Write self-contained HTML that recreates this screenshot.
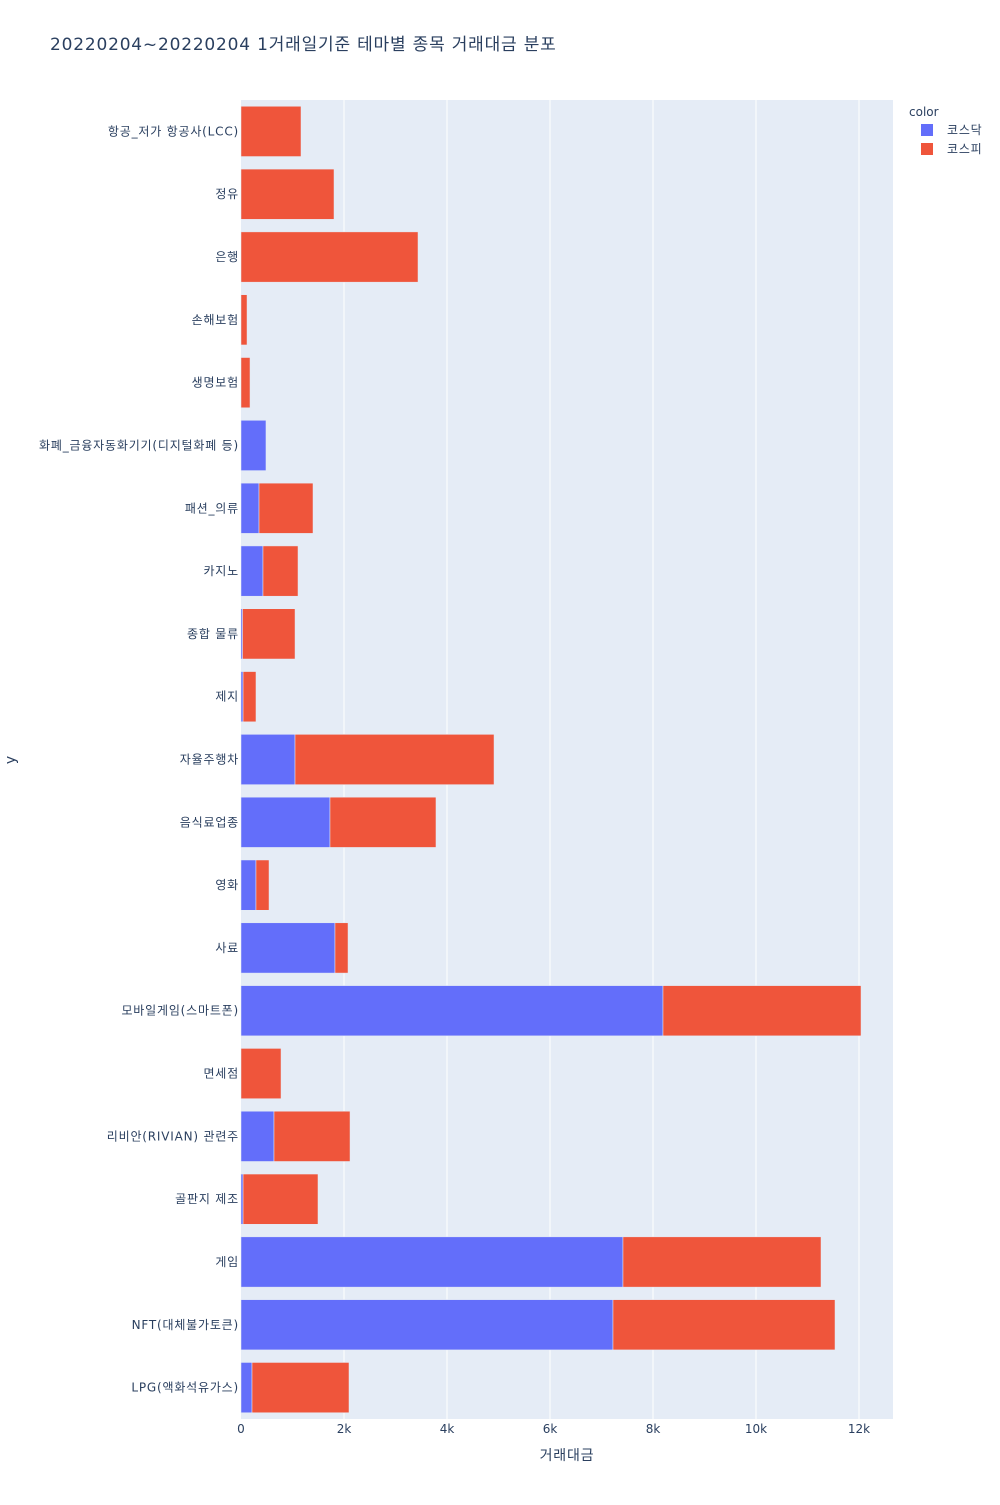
<!DOCTYPE html>
<html><head><meta charset="utf-8"><style>
body{margin:0;background:#fff;}
svg text{font-family:"DejaVu Sans","Noto Sans CJK KR",sans-serif;fill:#2a3f5f;}
.sp{letter-spacing:0.8px;}
</style></head><body>
<svg id="c" width="1000" height="1500" xmlns="http://www.w3.org/2000/svg">
<text class="sp" x="50" y="50" font-size="17">20220204~20220204 1거래일기준 테마별 종목 거래대금 분포</text>
<rect x="241" y="100" width="652" height="1319" fill="#E5ECF6"/>
<g id="grid"></g><g id="bars"></g><g id="yt"></g><g id="xt"></g>
<text class="sp" x="567" y="1460" font-size="14" text-anchor="middle">거래대금</text>
<text x="15" y="760" font-size="14" text-anchor="middle" transform="rotate(-90 15 760)">y</text>
<text x="909" y="116" font-size="12">color</text>
<g><rect x="921" y="124" width="12" height="12" fill="#636efa"/><text class="sp" x="947" y="134" font-size="12">코스닥</text></g>
<g><rect x="921" y="143" width="12" height="12" fill="#EF553B"/><text class="sp" x="947" y="153" font-size="12">코스피</text></g>
</svg>
<script>
const categories=["항공_저가 항공사(LCC)","정유","은행","손해보험","생명보험","화폐_금융자동화기기(디지털화폐 등)","패션_의류","카지노","종합 물류","제지","자율주행차","음식료업종","영화","사료","모바일게임(스마트폰)","면세점","리비안(RIVIAN) 관련주","골판지 제조","게임","NFT(대체불가토큰)","LPG(액화석유가스)"];
const kosdaq=[0,0,0,0,0,485,350,427,30,40,1049,1728,291,1825,8194,0,641,40,7417,7223,214];
const kospi=[1165,1806,3437,117,175,0,1048,680,1019,251,3864,2058,253,253,3845,777,1476,1455,3845,4311,1883];
const xTicks=[0,2000,4000,6000,8000,10000,12000];
const xTickLabels=["0","2k","4k","6k","8k","10k","12k"];
const NS="http://www.w3.org/2000/svg";
const X0=241,X1=893,XMAX=12660,Y0=100,Y1=1419;
const band=(Y1-Y0)/categories.length;
const xs=v=>X0+v/XMAX*(X1-X0);
const yc=i=>Y0+band*(i+0.5);
function mk(t,a,p){const e=document.createElementNS(NS,t);for(const k in a)e.setAttribute(k,a[k]);document.getElementById(p).appendChild(e);return e;}
xTicks.forEach((v,i)=>{
 if(v>0){const g=mk('line',{x1:xs(v),x2:xs(v),y1:Y0,y2:Y1,stroke:'#fff','stroke-width':1},'grid');
 
 }
 const t=mk('text',{x:xs(v),y:1433,'font-size':12,'text-anchor':'middle'},'xt');t.textContent=xTickLabels[i];
 
 
});
const bh=band*0.8;
categories.forEach((c,i)=>{
 const y=yc(i)-bh/2;
 if(kosdaq[i]>0){const r=mk('rect',{x:xs(0),y:y,width:xs(kosdaq[i])-xs(0),height:bh,fill:'#636efa',stroke:'#E5ECF6','stroke-width':0.5},'bars');
 
 }
 if(kospi[i]>0){const r=mk('rect',{x:xs(kosdaq[i]),y:y,width:xs(kosdaq[i]+kospi[i])-xs(kosdaq[i]),height:bh,fill:'#EF553B',stroke:'#E5ECF6','stroke-width':0.5},'bars');
 
 }
 const t=mk('text',{x:239,y:yc(i)+4,'font-size':12,'text-anchor':'end',class:'sp'},'yt');t.textContent=c;
 
 
});
</script>
</body></html>
